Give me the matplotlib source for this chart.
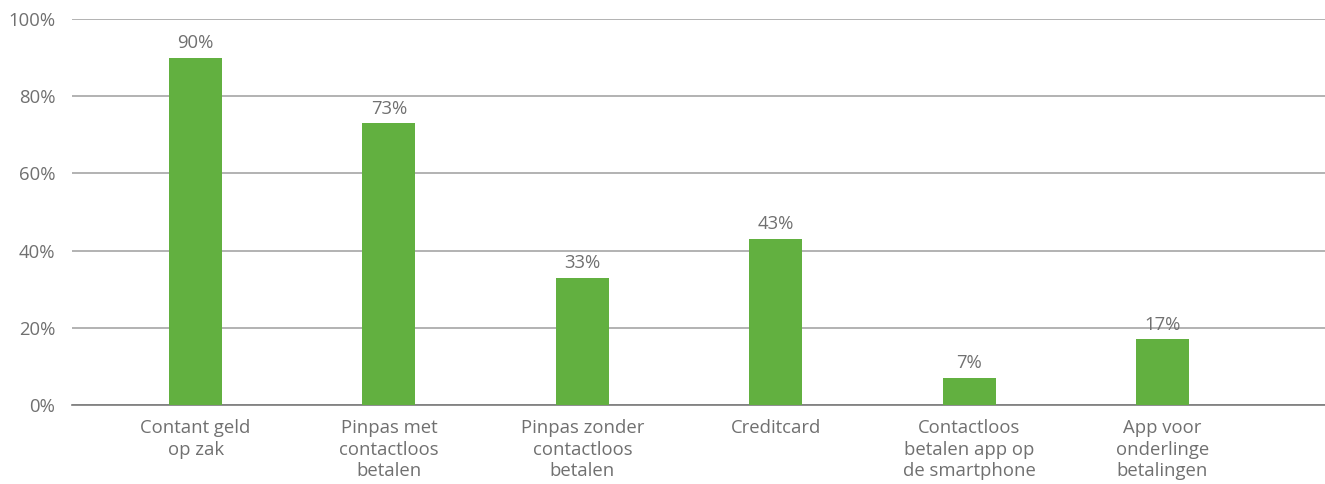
import matplotlib.pyplot as plt

categories = ["Contant geld\nop zak", "Pinpas met\ncontactloos\nbetalen",
              "Pinpas zonder\ncontactloos\nbetalen", "Creditcard",
              "Contactloos\nbetalen app op\nde smartphone", "App voor\nonderlinge\nbetalingen"]
values = [90, 73, 33, 43, 7, 17]
yticks = [0, 20, 40, 60, 80, 100]

plt.rcParams['font.family'] = ['Open Sans', 'DejaVu Sans']
text_col = '#707070'
fs = 13.3

fig = plt.figure(figsize=(13.25, 4.84), dpi=100)
ax = fig.add_axes([72 / 1325, 1 - 405 / 484, 1 - 72 / 1325, (405 - 19) / 484])

x = list(range(len(values)))
ax.bar(x, values, width=0.274, color='#62b040', zorder=3)
for xi, v in zip(x, values):
    ax.annotate(f"{v}%", (xi, v), xytext=(0, 4), textcoords='offset points',
                ha='center', va='bottom', fontsize=fs, color=text_col)

ax.set_xlim(-0.639, 5.84)
ax.set_ylim(0, 100)
ax.set_yticks(yticks)
ax.set_yticklabels([f"{t}%" for t in yticks])
ax.yaxis.grid(True, color='#a6a6a6', linewidth=1.2, zorder=0)
ax.set_xticks(x)
ax.set_xticklabels(categories, fontsize=fs, color=text_col, linespacing=1.26)
ax.tick_params(axis='y', length=0, labelsize=fs, labelcolor=text_col, pad=12)
ax.tick_params(axis='x', length=0, pad=10)
for s in ['top', 'right', 'left']:
    ax.spines[s].set_visible(False)
ax.spines['bottom'].set_color('#7a7a7a')
ax.spines['bottom'].set_linewidth(1.2)

plt.savefig("out.png", dpi=100)
